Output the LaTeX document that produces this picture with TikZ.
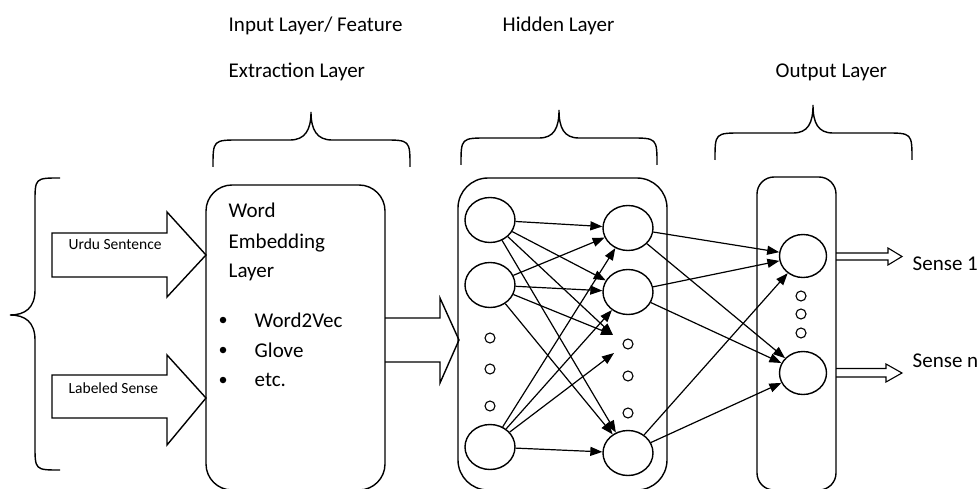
\documentclass[tikz,border=0pt]{standalone}
\usepackage{fontspec}
\setmainfont{Carlito}
\usetikzlibrary{shapes.geometric,arrows.meta}
\begin{document}
\begin{tikzpicture}[x=1pt,y=-1pt,line width=1.4pt,
  neuron/.style={draw,ellipse,minimum width=50pt,minimum height=45pt,inner sep=0pt},
  smalldot/.style={draw,circle,minimum size=10pt,inner sep=0pt,line width=1.1pt},
  conn/.style={-{Triangle[length=12pt,width=9pt]},line width=1.2pt},
  lbl/.style={font=\fontsize{21}{24}\selectfont,anchor=base west,inner sep=0pt},
  tinylbl/.style={font=\fontsize{15.5}{17}\selectfont,anchor=base west,inner sep=0pt},
  layerbox/.style={draw,inner sep=0pt},
  bulletdot/.style={fill,circle,minimum size=6.5pt,inner sep=0pt}]
\useasboundingbox (0,0) rectangle (977,489);

% top labels
\node[lbl] (t1) at (228,32) {Input Layer/ Feature};
\node[lbl] (t2) at (228,78) {Extraction Layer};
\node[lbl] (t3) at (502,32) {Hidden Layer};
\node[lbl] (t4) at (775,78) {Output Layer};

% top braces
\draw (213,167) .. controls (213,140) .. (240,140) -- (290,140) .. controls (305,140) and (311,130) .. (311,112)
  .. controls (311,130) and (317,140) .. (332,140) -- (383,140) .. controls (410,140) .. (410,167);
\draw (461,165) .. controls (461,138) .. (488,138) -- (539,138) .. controls (554,138) and (559,128) .. (559,110)
  .. controls (559,128) and (564,138) .. (579,138) -- (630,138) .. controls (657,138) .. (657,165);
\draw (715,160) .. controls (715,133) .. (742,133) -- (793,133) .. controls (808,133) and (813,123) .. (813,105)
  .. controls (813,123) and (818,133) .. (833,133) -- (885,133) .. controls (912,133) .. (912,160);

% left brace
\draw (60,178) .. controls (35,178) .. (35,203) -- (35,290) .. controls (35,308) and (25,315) .. (10,315)
  .. controls (25,315) and (35,322) .. (35,340) -- (35,445) .. controls (35,470) .. (60,470);

% boxes
\node[layerbox,rounded corners=26pt,minimum width=179pt,minimum height=305pt] (emb) at (295.5,337.5) {};
\node[layerbox,rounded corners=30pt,minimum width=209pt,minimum height=312pt] (hid) at (562.5,334) {};
\node[layerbox,rounded corners=17pt,minimum width=79pt,minimum height=313pt] (out) at (796.5,333.5) {};

% input block arrows
\draw (52,233) -- (167,233) -- (167,212) -- (206,255) -- (167,297) -- (167,277) -- (52,277) -- cycle;
\draw (52,375) -- (167,375) -- (167,355) -- (206,398) -- (167,445) -- (167,418) -- (52,418) -- cycle;
\node[tinylbl] (in1) at (68,250) {Urdu Sentence};
\node[tinylbl] (in2) at (68,393) {Labeled Sense};

% embedding text
\node[lbl] (w1) at (228,218) {Word};
\node[lbl] (w2) at (228,248) {Embedding};
\node[lbl] (w3) at (228,277) {Layer};
\node[bulletdot] (b1) at (223,320) {};
\node[bulletdot] (b2) at (223,350) {};
\node[bulletdot] (b3) at (223,380) {};
\node[lbl] (w4) at (254,327) {Word2Vec};
\node[lbl] (w5) at (254,357) {Glove};
\node[lbl] (w6) at (254,386) {etc.};

% middle block arrow
\draw (385,318) -- (440,318) -- (440,298) -- (459,340) -- (440,383) -- (440,362) -- (385,362);

% hidden neurons
\node[neuron] (ha) at (490,220) {};
\node[neuron] (hb) at (490,285) {};
\node[neuron] (hc) at (490,447) {};
\node[smalldot] (hd1) at (490,338) {};
\node[smalldot] (hd2) at (490,369) {};
\node[smalldot] (hd3) at (490,406) {};
\node[neuron] (ga) at (628,228) {};
\node[neuron] (gb) at (628,292) {};
\node[neuron] (gc) at (628,453) {};
\node[smalldot] (gd1) at (628,344) {};
\node[smalldot] (gd2) at (628,376) {};
\node[smalldot] (gd3) at (628,413) {};
\coordinate (d1) at (613,335);
\coordinate (d2) at (614,353);

\foreach \s in {ha,hb}{
  \draw[conn] (\s) -- (ga);
  \draw[conn] (\s) -- (gb);
  \draw[conn] (\s) -- (d1);
  \draw[conn] (\s) -- (gc);
}
\draw[conn] (hc) -- (ga);
\draw[conn] (hc) -- (gb);
\draw[conn] (hc) -- (d2);
\draw[conn] (hc) -- (gc);

% output neurons
\node[neuron,minimum width=47pt,minimum height=43pt] (oa) at (803,256) {};
\node[neuron,minimum width=47pt,minimum height=43pt] (ob) at (803,373) {};
\node[smalldot] (od1) at (801,296) {};
\node[smalldot] (od2) at (801,314) {};
\node[smalldot] (od3) at (801,333) {};

\foreach \s in {ga,gb,gc}{
  \draw[conn] (\s) -- (oa);
  \draw[conn] (\s) -- (ob);
}

% output hollow arrows
\draw[line width=1.1pt] (836,253) -- (888,253) -- (888,248) -- (902,256.5) -- (888,265) -- (888,260) -- (836,260);
\draw[line width=1.1pt] (836,368.5) -- (886,368.5) -- (886,364) -- (902,373) -- (886,382) -- (886,377) -- (836,377);
\node[lbl] (s1) at (912,270) {Sense 1};
\node[lbl] (s2) at (912,367) {Sense n};
\end{tikzpicture}
\end{document}
